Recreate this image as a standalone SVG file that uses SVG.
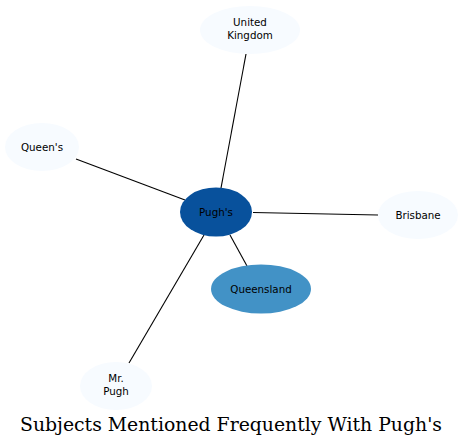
<svg xmlns="http://www.w3.org/2000/svg" width="464" height="447" viewBox="0 0 464 447">
<style>
.edge{stroke:#000;stroke-width:1.1;fill:none}
.lt{fill:#f7fbff;stroke:none}
.lbl{font-family:"DejaVu Sans",sans-serif;font-size:10.3px;fill:#000;text-anchor:middle}
.title{font-family:"DejaVu Serif",serif;font-size:18.5px;fill:#000;text-anchor:middle}
</style>
<rect width="464" height="447" fill="#fff"/>
<g id="connectors">
<line class="edge" x1="221" y1="188" x2="246" y2="54"/>
<line class="edge" x1="185" y1="200" x2="76" y2="159"/>
<line class="edge" x1="253" y1="212.5" x2="378" y2="215"/>
<line class="edge" x1="230" y1="235" x2="247" y2="266"/>
<line class="edge" x1="204" y1="235" x2="129" y2="363"/>
</g>
<g id="node-uk"><ellipse class="lt" cx="250" cy="30" rx="50" ry="24"/><text class="lbl" x="250" y="26">United</text><text class="lbl" x="250" y="39">Kingdom</text></g>
<g id="node-queens"><ellipse class="lt" cx="42" cy="147" rx="37" ry="24"/><text class="lbl" x="42" y="150.5">Queen's</text></g>
<g id="node-brisbane"><ellipse class="lt" cx="418" cy="215" rx="40" ry="24"/><text class="lbl" x="418" y="218.5">Brisbane</text></g>
<g id="node-pughs"><ellipse cx="216" cy="212" rx="36" ry="24.5" fill="#08519c"/><text class="lbl" x="216" y="215.5">Pugh's</text></g>
<g id="node-queensland"><ellipse cx="261" cy="289" rx="50" ry="24.5" fill="#4292c6"/><text class="lbl" x="261" y="292.5">Queensland</text></g>
<g id="node-mrpugh"><ellipse class="lt" cx="116" cy="386" rx="36" ry="24"/><text class="lbl" x="116" y="382">Mr.</text><text class="lbl" x="116" y="395">Pugh</text></g>
<text class="title" x="231" y="431" textLength="422" lengthAdjust="spacingAndGlyphs">Subjects Mentioned Frequently With Pugh's</text>
</svg>
